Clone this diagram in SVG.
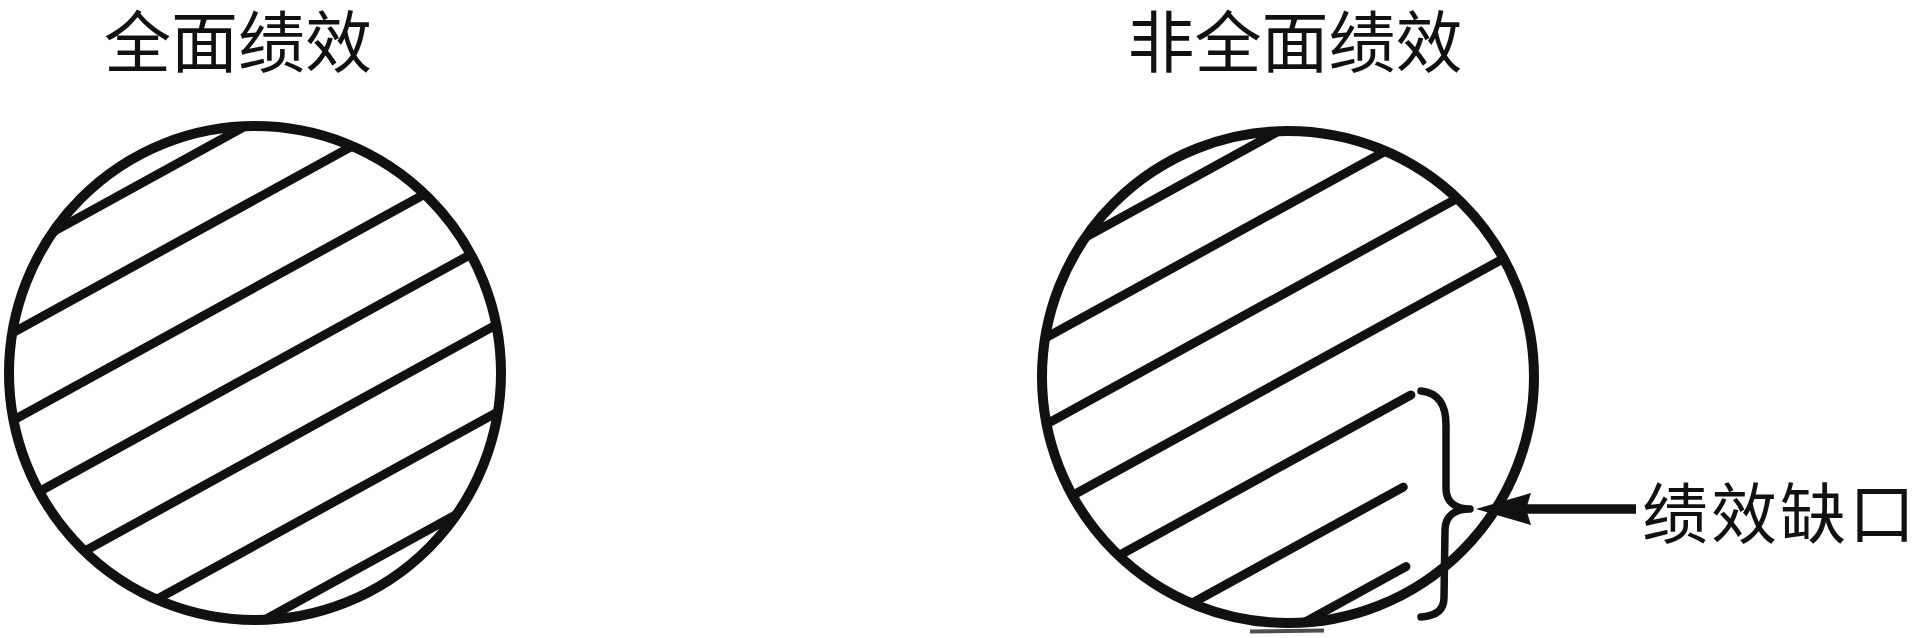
<svg xmlns="http://www.w3.org/2000/svg" width="1920" height="638" viewBox="0 0 1920 638">
  <style>
    .title { font-family: "Liberation Sans", "Noto Sans CJK SC", sans-serif; font-size: 67px; fill: #111; }
    .label { font-family: "Liberation Sans", "Noto Sans CJK SC", sans-serif; font-size: 66px; fill: #111; letter-spacing: 3px; }
    .ring { fill: none; stroke: #111; stroke-width: 10; }
    .stripe { fill: none; stroke: #111; stroke-width: 9; stroke-linecap: round; }
    .brace { fill: none; stroke: #111; stroke-width: 7.5; stroke-linecap: round; stroke-linejoin: round; }
    .shaft { fill: none; stroke: #111; stroke-width: 9.5; }
  </style>
  <defs>
    <clipPath id="clipDisc" clipPathUnits="userSpaceOnUse">
      <circle cx="0" cy="0" r="247"/>
    </clipPath>
    <marker id="arrowHead" markerUnits="userSpaceOnUse" viewBox="0 0 55 32" refX="31" refY="16" markerWidth="55" markerHeight="32" orient="auto">
      <path d="M0,0 L55,16 L0,32 L5,16 Z" fill="#111"/>
    </marker>
  </defs>
  <rect x="0" y="0" width="1920" height="638" fill="#fff"/>

  <g id="title-left">
    <text class="title" x="238" y="67" text-anchor="middle">全面绩效</text>
  </g>
  <g id="title-right">
    <text class="title" x="1295" y="67" text-anchor="middle">非全面绩效</text>
  </g>

  <g id="circle-full">
    <g transform="translate(255,373) rotate(-28.8)">
      <g clip-path="url(#clipDisc)">
        <line class="stripe" x1="-260" y1="-221" x2="260" y2="-221"/>
        <line class="stripe" x1="-260" y1="-152" x2="260" y2="-152"/>
        <line class="stripe" x1="-260" y1="-75" x2="260" y2="-75"/>
        <line class="stripe" x1="-260" y1="0" x2="260" y2="0"/>
        <line class="stripe" x1="-260" y1="74" x2="260" y2="74"/>
        <line class="stripe" x1="-260" y1="151" x2="260" y2="151"/>
        <line class="stripe" x1="-260" y1="221" x2="260" y2="221"/>
      </g>
    </g>
    <ellipse class="ring" cx="255" cy="373" rx="246" ry="247"/>
  </g>

  <g id="circle-partial">
    <g transform="translate(1288,377) rotate(-28.8)">
      <g clip-path="url(#clipDisc)">
        <line class="stripe" x1="-260" y1="-220" x2="260" y2="-220"/>
        <line class="stripe" x1="-260" y1="-151" x2="260" y2="-151"/>
        <line class="stripe" x1="-260" y1="-75" x2="260" y2="-75"/>
        <line class="stripe" x1="-260" y1="0" x2="260" y2="0"/>
        <line class="stripe" x1="-260" y1="75" x2="99" y2="75"/>
        <line class="stripe" x1="-260" y1="152" x2="48" y2="152"/>
        <line class="stripe" x1="-260" y1="223" x2="12" y2="223"/>
      </g>
    </g>
    <ellipse class="ring" cx="1288" cy="377" rx="246" ry="246"/>
    <path d="M1250,631.5 L1324,630.5" fill="none" stroke="#222" stroke-width="4" opacity="0.8"/>
  </g>

  <g id="gap-brace">
    <path class="brace" d="M1421,391 C1439,393 1446,405 1446,425 L1446,488 C1446,502 1455,509 1470,509 C1455,509 1445,516 1445,530 L1444,598 C1444,610 1436,616 1421,617"/>
  </g>

  <g id="connectors">
    <path class="shaft" d="M1636,509 L1500,509" marker-end="url(#arrowHead)"/>
  </g>

  <g id="label-gap">
    <text class="label" x="1642" y="538">绩效缺口</text>
  </g>
</svg>
